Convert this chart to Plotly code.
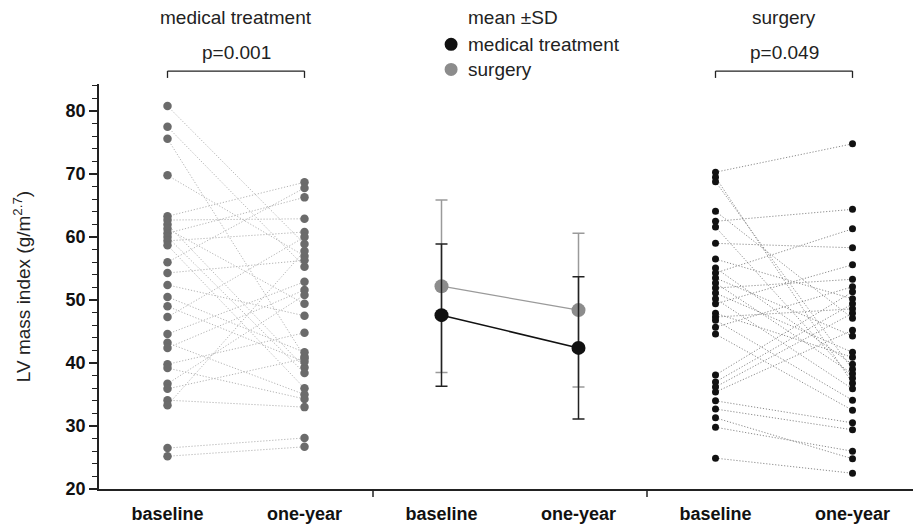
import plotly.graph_objects as go

# ---------------- data ----------------
categories = ["baseline", "one-year", "baseline", "one-year", "baseline", "one-year"]

med_base = [80.8, 77.5, 75.6, 69.8, 63.3, 62.7, 62.0, 61.3, 60.6, 60.0, 59.4, 58.7,
            56.0, 54.3, 52.4, 50.5, 49.0, 47.3, 44.6, 43.2, 42.4, 39.8, 39.2, 36.7,
            35.9, 34.1, 33.3, 26.5, 25.2]
med_1y = [58.9, 55.3, 41.0, 57.0, 68.7, 62.9, 39.3, 49.4, 66.3, 38.4, 60.8, 36.0,
          67.8, 56.3, 47.5, 41.7, 40.2, 60.0, 52.9, 35.0, 51.6, 44.8, 34.3, 50.8,
          40.7, 33.0, 57.8, 28.1, 26.7]

surg_base = [70.3, 69.5, 68.8, 64.1, 62.5, 61.6, 59.0, 56.5, 55.1, 54.3, 53.5, 52.7,
             51.9, 51.1, 50.2, 49.4, 47.9, 47.3, 46.8, 45.7, 44.6, 38.1, 37.0, 36.2,
             35.4, 34.0, 32.7, 31.3, 29.8, 24.9]
surg_1y = [74.8, 36.8, 39.0, 47.1, 64.4, 37.6, 58.3, 50.2, 39.8, 61.3, 44.3, 38.3,
           53.3, 41.7, 35.9, 55.6, 40.9, 48.6, 34.1, 52.1, 32.5, 51.3, 49.4, 47.9,
           45.2, 30.5, 29.4, 24.8, 26.0, 22.5]

# mean +- SD (as drawn)
mean_gray = [52.2, 48.4]
sd_gray = [13.7, 12.2]
mean_black = [47.6, 42.4]
sd_black = [11.3, 11.3]

# ---------------- figure ----------------
X_MED = (0, 1)
X_MEAN = (2, 3)
X_SURG = (4, 5)

def pair_lines(x0, x1, a, b):
    xs, ys = [], []
    for u, v in zip(a, b):
        xs += [x0, x1, None]
        ys += [u, v, None]
    return xs, ys

fig = go.Figure()

lx, ly = pair_lines(X_MED[0], X_MED[1], med_base, med_1y)
fig.add_trace(go.Scatter(x=lx, y=ly, mode="lines",
                         line=dict(color="#b4b4b4", width=1, dash="1.2px,1.8px"),
                         hoverinfo="skip", showlegend=False))
lx, ly = pair_lines(X_SURG[0], X_SURG[1], surg_base, surg_1y)
fig.add_trace(go.Scatter(x=lx, y=ly, mode="lines",
                         line=dict(color="#8c8c8c", width=1, dash="1.2px,1.8px"),
                         hoverinfo="skip", showlegend=False))

fig.add_trace(go.Scatter(x=[X_MED[0]] * len(med_base) + [X_MED[1]] * len(med_1y),
                         y=med_base + med_1y, mode="markers",
                         marker=dict(color="#6b6b6b", size=8.5), showlegend=False))
fig.add_trace(go.Scatter(x=[X_SURG[0]] * len(surg_base) + [X_SURG[1]] * len(surg_1y),
                         y=surg_base + surg_1y, mode="markers",
                         marker=dict(color="#111111", size=7), showlegend=False))

# mean +- SD
fig.add_trace(go.Scatter(x=list(X_MEAN), y=mean_gray, mode="lines+markers",
                         line=dict(color="#9a9a9a", width=1.3),
                         marker=dict(color="#8c8c8c", size=14),
                         error_y=dict(type="data", array=sd_gray, color="#9a9a9a",
                                      thickness=1.5, width=6),
                         showlegend=False))
fig.add_trace(go.Scatter(x=list(X_MEAN), y=mean_black, mode="lines+markers",
                         line=dict(color="#111111", width=1.6),
                         marker=dict(color="#111111", size=14),
                         error_y=dict(type="data", array=sd_black, color="#222222",
                                      thickness=1.5, width=6),
                         showlegend=False))

FONT = "Arial, Liberation Sans, sans-serif"
TXT = 19

shapes = []
# p-value brackets
for (a, b) in (X_MED, X_SURG):
    shapes.append(dict(type="line", xref="x", yref="paper", x0=a, x1=b, y0=1.032, y1=1.032,
                       line=dict(color="#222", width=1.3)))
    for xx in (a, b):
        shapes.append(dict(type="line", xref="x", yref="paper", x0=xx, x1=xx, y0=1.032, y1=1.015,
                           line=dict(color="#222", width=1.3)))
# separator marks on x axis
for xx in (1.5, 3.5):
    shapes.append(dict(type="line", xref="x", yref="paper", x0=xx, x1=xx, y0=0, y1=-0.02,
                       line=dict(color="#222", width=1.5)))
# legend circles
for yy, col in ((1.098, "#111111"), (1.036, "#8c8c8c")):
    shapes.append(dict(type="circle", xref="x", yref="paper", xsizemode="pixel",
                       ysizemode="pixel", xanchor=2.07, yanchor=yy,
                       x0=-6.5, x1=6.5, y0=-6.5, y1=6.5,
                       fillcolor=col, line=dict(color=col, width=0)))

def ann(text, x, y, xanchor="center"):
    return dict(text=text, x=x, y=y, xref="x", yref="paper", showarrow=False,
                xanchor=xanchor, yanchor="middle",
                font=dict(size=TXT, color="#222", family=FONT))

annotations = [
    ann("medical treatment", 0.5, 1.165),
    ann("surgery", 4.5, 1.165),
    ann("mean ±SD", 2.18, 1.165, "left"),
    ann("medical treatment", 2.18, 1.098, "left"),
    ann("surgery", 2.18, 1.036, "left"),
    ann("p=0.001", 0.5, 1.079),
    ann("p=0.049", 4.5, 1.079),
]

# the page body has an 8px margin; margins below put the plot area where the reference has it
fig.update_layout(
    width=921, height=527,
    margin=dict(l=91, r=8, t=76, b=46),
    paper_bgcolor="white", plot_bgcolor="white",
    shapes=shapes, annotations=annotations,
    font=dict(family=FONT, color="#222"),
    xaxis=dict(range=[-0.5, 5.5], tickvals=list(range(6)), ticktext=categories,
               showgrid=False, zeroline=False, showline=True, linecolor="#222", linewidth=1.5,
               ticks="", ticklabelstandoff=8,
               tickfont=dict(size=18, family=FONT, color="#111", weight="bold")),
    yaxis=dict(range=[20, 84.3], tickvals=[20, 30, 40, 50, 60, 70, 80],
               showgrid=False, zeroline=False, showline=True, linecolor="#222", linewidth=1.5,
               ticks="outside", ticklen=8, tickwidth=1.5, tickcolor="#222",
               minor=dict(dtick=2, ticks="outside", ticklen=5, tickwidth=1.2, tickcolor="#222"),
               tickfont=dict(size=18, family=FONT, color="#111", weight="bold"),
               title=dict(text="LV mass index (g/m<sup>2.7</sup>)", standoff=30,
                          font=dict(size=TXT, family=FONT, color="#222"))),
)

fig.write_html("out.html")
